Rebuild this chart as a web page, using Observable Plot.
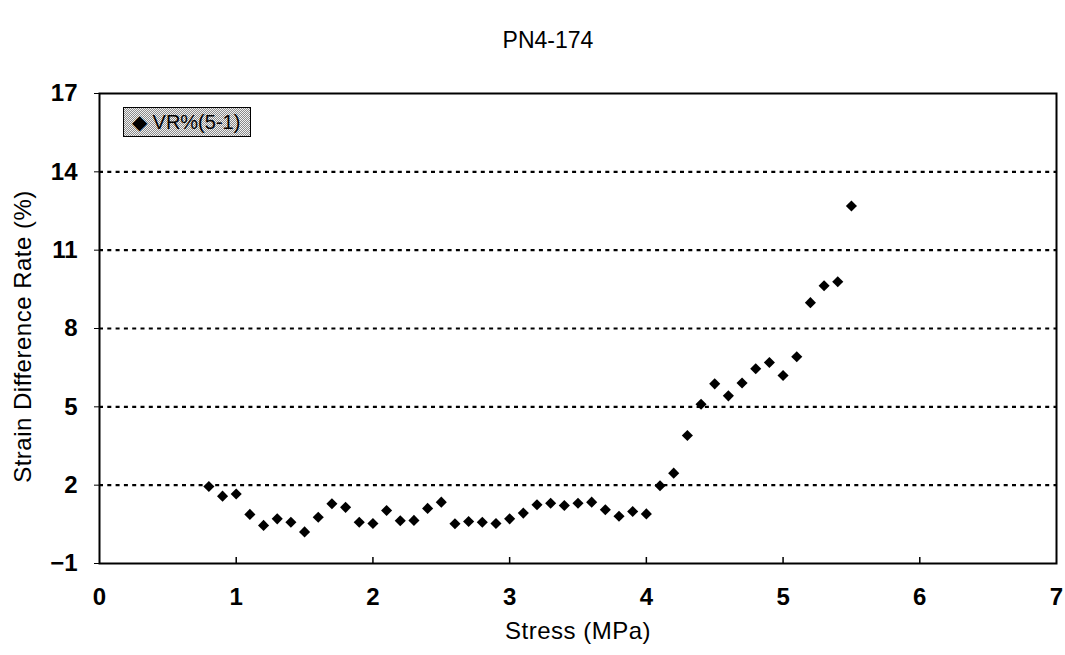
<!DOCTYPE html>
<html>
<head>
<meta charset="utf-8">
<script src="https://cdn.jsdelivr.net/npm/d3@7"></script>
<script src="https://cdn.jsdelivr.net/npm/@observablehq/plot@0.6"></script>
<style>
  html, body { margin: 0; padding: 0; background: #fff; }
  #wrap { position: relative; width: 1065px; height: 655px; }
  #legend {
    position: absolute; left: 123px; top: 107px; width: 118px; height: 28px;
    border: 1.5px solid #000;
    background-color: #d8d8d8;
    background-image: repeating-conic-gradient(#8a8a8a 0 25%, #f2f2f2 0 50%);
    background-size: 2px 2px;
    font-family: "Liberation Sans", Arial, sans-serif; font-size: 20px;
    line-height: 28px; color: #000; white-space: nowrap; padding-left: 8px; box-sizing: content-box;
  }
  .axislabel text { letter-spacing: 0.5px; }
</style>
</head>
<body>
<div id="wrap"></div>
<script>
const title = "PN4-174";
const xLabel = "Stress (MPa)";
const yLabel = "Strain Difference Rate (%)";
const seriesName = "VR%(5-1)";
const xTicks = [0, 1, 2, 3, 4, 5, 6, 7];
const xInnerTicks = [1, 2, 3, 4, 5, 6];
const yTicks = [-1, 2, 5, 8, 11, 14, 17];
const yGrid = [2, 5, 8, 11, 14];
const stress = [0.8, 0.9, 1.0, 1.1, 1.2, 1.3, 1.4, 1.5, 1.6, 1.7, 1.8, 1.9, 2.0,
  2.1, 2.2, 2.3, 2.4, 2.5, 2.6, 2.7, 2.8, 2.9, 3.0, 3.1, 3.2, 3.3, 3.4, 3.5, 3.6,
  3.7, 3.8, 3.9, 4.0, 4.1, 4.2, 4.3, 4.4, 4.5, 4.6, 4.7, 4.8, 4.9, 5.0, 5.1, 5.2,
  5.3, 5.4, 5.5];
const vr = [1.95, 1.58, 1.66, 0.88, 0.46, 0.71, 0.58, 0.21, 0.77, 1.29, 1.15, 0.58, 0.53,
  1.03, 0.64, 0.65, 1.11, 1.35, 0.52, 0.61, 0.58, 0.53, 0.71, 0.93, 1.25, 1.31, 1.22, 1.31, 1.35,
  1.06, 0.81, 0.99, 0.90, 1.98, 2.46, 3.90, 5.10, 5.88, 5.42, 5.91, 6.46, 6.70, 6.20, 6.92, 8.99,
  9.64, 9.79, 12.69];

const data = stress.map((s, i) => ({stress: s, vr: vr[i]}));
const font = "Liberation Sans, Arial, sans-serif";

const chart = Plot.plot({
  width: 1065,
  height: 655,
  marginLeft: 99,
  marginRight: 9,
  marginTop: 93,
  marginBottom: 92,
  style: {fontFamily: font, background: "white", color: "black"},
  x: {domain: [0, 7], ticks: xTicks, label: null},
  y: {domain: [-1, 17], ticks: yTicks, label: null},
  marks: [
    Plot.ruleY(yGrid, {stroke: "black", strokeWidth: 2.2, strokeDasharray: "4,4.3"}),
    Plot.dot(data, {x: "stress", y: "vr", symbol: "diamond2", r: 5, fill: "black", stroke: "none"}),
    Plot.frame({stroke: "black", strokeWidth: 2}),
    Plot.tickX(xInnerTicks, {x: d => d, insetTop: 464, stroke: "black", strokeWidth: 1.5}),
    Plot.axisX({ticks: xTicks, tickSize: 0, tickPadding: 24, fontSize: 24, fontWeight: "bold", label: null, tickFormat: d => String(d)}),
    Plot.axisY({ticks: yTicks, tickSize: 5, tickPadding: 17, fontSize: 24, fontWeight: "bold", label: null,
      tickFormat: d => d < 0 ? "\u2212" + Math.abs(d) : String(d)}),
    Plot.text([xLabel], {text: d => d, frameAnchor: "bottom", dy: 75, fontSize: 24, className: "axislabel"}),
    Plot.text([yLabel], {text: d => d, frameAnchor: "left", textAnchor: "middle", dx: -76, dy: 8, rotate: -90, fontSize: 24, className: "axislabel"}),
    Plot.text([title], {text: d => d, frameAnchor: "top", dx: -30, dy: -62, fontSize: 23})
  ]
});

const wrap = document.getElementById("wrap");
wrap.appendChild(chart);
const legend = document.createElement("div");
legend.id = "legend";
legend.textContent = "\u25C6 " + seriesName;
wrap.appendChild(legend);
</script>
</body>
</html>
